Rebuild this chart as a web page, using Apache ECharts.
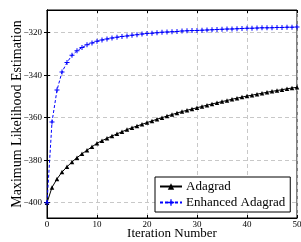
<!DOCTYPE html>
<html><head><meta charset="utf-8">
<script src="https://cdn.jsdelivr.net/npm/echarts@6/dist/echarts.min.js"></script>
<style>html,body{margin:0;padding:0;background:#fff}#c{width:301px;height:242px}</style>
</head><body><div id="c"></div>
<script>
const iterations = [0,1,2,3,4,5,6,7,8,9,10,11,12,13,14,15,16,17,18,19,20,21,22,23,24,25,26,27,28,29,30,31,32,33,34,35,36,37,38,39,40,41,42,43,44,45,46,47,48,49,50];
const adagrad = [-400,-392.8,-388.8,-385.6,-383.1,-380.8,-378.8,-377.0,-375.3,-373.7,-372.0,-370.8,-369.7,-368.6,-367.6,-366.6,-365.6,-364.7,-363.9,-363.1,-362.3,-361.5,-360.7,-360.0,-359.2,-358.5,-357.8,-357.1,-356.5,-355.9,-355.3,-354.7,-354.1,-353.5,-353.0,-352.4,-351.9,-351.3,-350.8,-350.3,-349.8,-349.4,-348.9,-348.5,-348.0,-347.6,-347.2,-346.8,-346.4,-346.0,-345.7];
const enhanced = [-400,-362,-347,-338.5,-334,-330.6,-328.5,-327,-325.7,-324.8,-324,-323.4,-322.9,-322.5,-322.1,-321.8,-321.5,-321.2,-320.9,-320.6,-320.4,-320.2,-320.0,-319.8,-319.7,-319.5,-319.4,-319.2,-319.1,-319.0,-318.9,-318.8,-318.7,-318.6,-318.5,-318.4,-318.3,-318.2,-318.1,-318.0,-317.9,-317.9,-317.8,-317.7,-317.7,-317.6,-317.5,-317.5,-317.4,-317.4,-317.3];
const yTicks = [-400,-380,-360,-340,-320];
const seriesNames = ['Adagrad','Enhanced Adagrad'];

const serif = 'Liberation Serif';
const fmt = v => (v < 0 ? '\u2212' : '') + Math.abs(v);
const gridLine = {show:true, lineStyle:{color:'#c8c8c8', type:[4,3], width:1}};
const plus = 'path://M2,0H3V2H5V3H3V5H2V3H0V2H2Z';

const chart = echarts.init(document.getElementById('c'), null, {renderer:'canvas'});
chart.setOption({
  animation:false,
  backgroundColor:'#fff',
  grid:{left:47,right:4,top:10,bottom:24,show:true,borderColor:'#000',borderWidth:1,backgroundColor:'transparent',outerBoundsMode:'none',containLabel:false},
  legend:{
    left:155, top:177, orient:'vertical', itemGap:3, itemWidth:22, itemHeight:8,
    padding:[3,5,3,4], borderColor:'#000', borderWidth:1, borderRadius:0, backgroundColor:'#fff',
    textStyle:{fontFamily:serif, fontSize:13, color:'#000', padding:[0,0,0,-1]},
    data:seriesNames
  },
  xAxis:[{
    type:'value', min:0, max:50, interval:10,
    name:'Iteration Number', nameLocation:'middle', nameGap:9, nameMoveOverlap:false,
    nameTextStyle:{fontFamily:serif, fontSize:13, color:'#000'},
    axisLine:{show:true,lineStyle:{color:'#000'}},
    axisTick:{show:true, inside:true, length:3, lineStyle:{color:'#000'}},
    axisLabel:{fontFamily:serif, fontSize:9, color:'#000', margin:2, formatter:fmt},
    splitLine:gridLine
  },{
    type:'value', min:0, max:50, interval:10, position:'top',
    axisLine:{show:true,lineStyle:{color:'#000'}},
    axisTick:{show:true, inside:true, length:3, lineStyle:{color:'#000'}},
    axisLabel:{show:false}, splitLine:{show:false}
  }],
  yAxis:[{
    type:'value', min:-407.2, max:-309.3,
    name:'Maximum Likelihood Estimation', nameLocation:'middle', nameGap:23, nameMoveOverlap:false,
    nameTextStyle:{fontFamily:serif, fontSize:14, color:'#000'},
    axisLine:{show:true,lineStyle:{color:'#000'}},
    axisTick:{show:true, inside:true, length:3, customValues:yTicks, lineStyle:{color:'#000'}},
    axisLabel:{fontFamily:serif, fontSize:9, color:'#000', margin:5, customValues:yTicks, formatter:fmt},
    splitLine:gridLine
  },{
    type:'value', min:-407.2, max:-309.3, position:'right',
    axisLine:{show:true,lineStyle:{color:'#000'}},
    axisTick:{show:true, inside:true, length:3, customValues:yTicks, lineStyle:{color:'#000'}},
    axisLabel:{show:false}, splitLine:{show:false}
  }],
  series:[{
    name:seriesNames[0], type:'line', xAxisIndex:0, yAxisIndex:0,
    data: iterations.map((x,i)=>[x, adagrad[i]]),
    symbol:'triangle', symbolSize:4.5, showAllSymbol:true,
    lineStyle:{color:'#000', width:1},
    itemStyle:{color:'#000'}, z:2
  },{
    name:seriesNames[1], type:'line', xAxisIndex:0, yAxisIndex:0,
    data: iterations.map((x,i)=>[x, enhanced[i]]),
    symbol:plus, symbolSize:5, showAllSymbol:true,
    lineStyle:{color:'#0000ff', width:1, type:[3,2]},
    itemStyle:{color:'#0000ff'}, z:3
  }]
});
</script></body></html>
